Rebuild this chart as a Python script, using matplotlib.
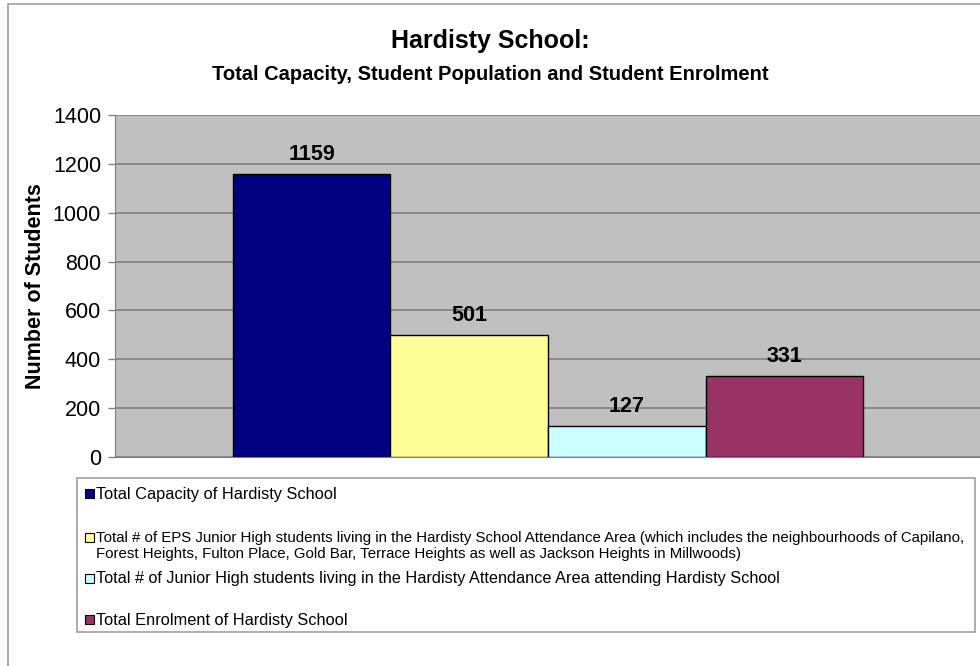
import matplotlib.pyplot as plt
from matplotlib.patches import Rectangle

# --- data ---
series = [
    "Total Capacity of Hardisty School",
    "Total # of EPS Junior High students living in the Hardisty School Attendance Area (which includes the neighbourhoods of Capilano,\n"
    "Forest Heights, Fulton Place, Gold Bar, Terrace Heights as well as Jackson Heights in Millwoods)",
    "Total # of Junior High students living in the Hardisty Attendance Area attending Hardisty School",
    "Total Enrolment of Hardisty School",
]
values = [1159, 501, 127, 331]
colors = ["#000080", "#FFFF99", "#CCFFFF", "#993366"]
yticks = [0, 200, 400, 600, 800, 1000, 1200, 1400]

plt.rcParams['font.family'] = ['Liberation Sans', 'DejaVu Sans']

fig = plt.figure(figsize=(9.8, 6.66), dpi=100)
W, H = 980, 666

def fx(px):
    return px / W

def fy(py):
    return 1 - py / H

# outer chart border (cut at right/bottom like the reference)
fig.patches.append(Rectangle((fx(8), -0.1), 1.2, fy(4) + 0.1, transform=fig.transFigure,
                             facecolor="none", edgecolor="#a0a0a0", lw=1.2))

ax = fig.add_axes([fx(115), fy(457), fx(981) - fx(115), fy(115) - fy(457)])
ax.set_facecolor("#C0C0C0")
x = list(range(len(values)))
ax.bar(x, values, width=1.0, color=colors, edgecolor="black", linewidth=1, zorder=3)
for xi, v in zip(x, values):
    ax.annotate(str(v), (xi, v), xytext=(0, 14), textcoords="offset points",
                ha="center", va="center", fontsize=15.5, fontweight="bold", zorder=4)

ax.set_xlim(-1.249, 4.249)
ax.set_ylim(0, 1400)
ax.set_yticks(yticks)
ax.tick_params(axis="y", labelsize=15.5, length=5, width=1, color="#808080", pad=5)
ax.set_xticks([])
ax.grid(axis="y", color="#808080", lw=1.2, zorder=1)
for side in ["top", "right"]:
    ax.spines[side].set_visible(False)
ax.spines["bottom"].set_color("#808080")
ax.spines["left"].set_color("#808080")
ax.set_ylabel("Number of Students", fontsize=15.5, fontweight="bold", labelpad=5)

fig.text(0.5, fy(41), "Hardisty School:", ha="center", va="center", fontsize=18, fontweight="bold")
fig.text(0.5, fy(74), "Total Capacity, Student Population and Student Enrolment",
         ha="center", va="center", fontsize=14.5, fontweight="bold")

# legend box
fig.patches.append(Rectangle((fx(77), fy(632)), fx(975) - fx(77), fy(478) - fy(632),
                             transform=fig.transFigure, facecolor="white",
                             edgecolor="#a0a0a0", lw=1.2))
entry_y = [493, 537, 578, 619]
entry_size = [11.8, 10.8, 11.7, 11.8]
for lab, col, ey, fs in zip(series, colors, entry_y, entry_size):
    fig.patches.append(Rectangle((fx(85), fy(ey + 5)), fx(9), fy(ey - 4) - fy(ey + 5),
                                 transform=fig.transFigure, facecolor=col,
                                 edgecolor="black", lw=0.8))
    n = lab.count("\n")
    fig.text(fx(96), fy(ey + 1 + n * 8), lab, ha="left", va="center", fontsize=fs,
             linespacing=1.25)

fig.savefig("out.png", dpi=100)
